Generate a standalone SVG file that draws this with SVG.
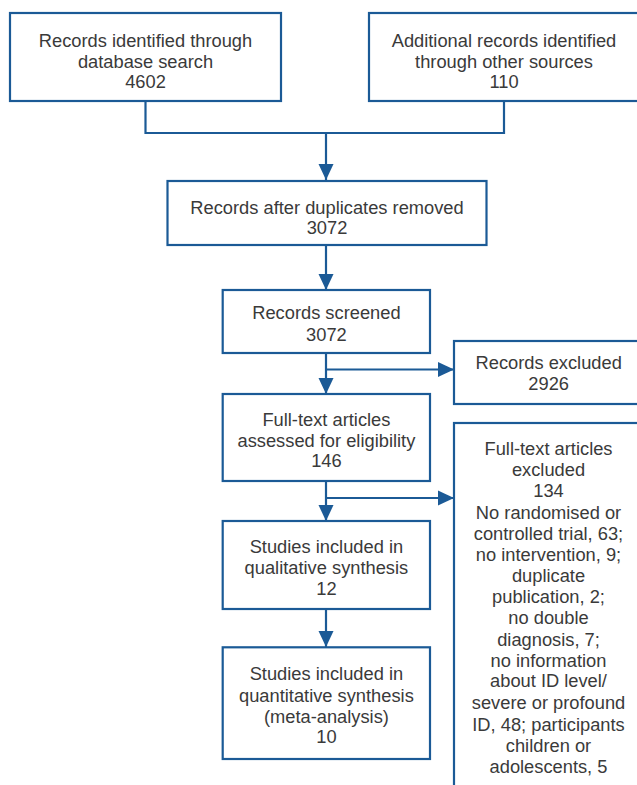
<svg xmlns="http://www.w3.org/2000/svg" width="637" height="785" viewBox="0 0 637 785">
<style>
.box{fill:#fff;stroke:#1b5a96;stroke-width:2.2}
.con{fill:none;stroke:#1b5a96;stroke-width:2.2}
text{font-family:"Liberation Sans",Arial,sans-serif;font-size:18.3px;fill:#3a3a3a;text-anchor:middle}
</style>
<defs>
<marker id="ah" markerUnits="userSpaceOnUse" markerWidth="16" markerHeight="16" viewBox="0 0 16 16" refX="16" refY="8" orient="auto">
<path d="M0,0.5 L16,8 L0,15.5 z" fill="#1b5a96"/>
</marker>
</defs>
<g id="connectors">
<path class="con" d="M145.5,101 V133 H504 V101"/>
<path class="con" d="M326,133 V180" marker-end="url(#ah)"/>
<path class="con" d="M326,245 V290" marker-end="url(#ah)"/>
<path class="con" d="M326,353 V394" marker-end="url(#ah)"/>
<path class="con" d="M326,369.5 H454" marker-end="url(#ah)"/>
<path class="con" d="M326,481 V521" marker-end="url(#ah)"/>
<path class="con" d="M326,498 H454" marker-end="url(#ah)"/>
<path class="con" d="M326,609 V647" marker-end="url(#ah)"/>
</g>
<g id="n1">
<rect class="box" x="10" y="13" width="271" height="88"/>
<text x="145.5" y="47">Records identified through</text>
<text x="145.5" y="67.5">database search</text>
<text x="145.5" y="88">4602</text>
</g>
<g id="n2">
<rect class="box" x="369" y="13" width="272" height="88"/>
<text x="504" y="47">Additional records identified</text>
<text x="504" y="67.5">through other sources</text>
<text x="504" y="88">110</text>
</g>
<g id="n3">
<rect class="box" x="167.5" y="181" width="319" height="64"/>
<text x="327" y="213.5">Records after duplicates removed</text>
<text x="327" y="234">3072</text>
</g>
<g id="n4">
<rect class="box" x="222.7" y="290" width="207.3" height="63"/>
<text x="326.4" y="319.3">Records screened</text>
<text x="326.4" y="340.5">3072</text>
</g>
<g id="n5">
<rect class="box" x="222.7" y="394" width="207.3" height="87"/>
<text x="326.4" y="426">Full-text articles</text>
<text x="326.4" y="446.7">assessed for eligibility</text>
<text x="326.4" y="467.3">146</text>
</g>
<g id="n6">
<rect class="box" x="454" y="341" width="190" height="63"/>
<text x="548.7" y="369.3">Records excluded</text>
<text x="548.7" y="390">2926</text>
</g>
<g id="n7">
<rect class="box" x="454" y="423" width="190" height="380"/>
<text x="548.5" y="455">Full-text articles</text>
<text x="548.5" y="476">excluded</text>
<text x="548.5" y="496.7">134</text>
<text x="548.5" y="519.3">No randomised or</text>
<text x="548.5" y="540">controlled trial, 63;</text>
<text x="548.5" y="561">no intervention, 9;</text>
<text x="548.5" y="581.7">duplicate</text>
<text x="548.5" y="603.3">publication, 2;</text>
<text x="548.5" y="624">no double</text>
<text x="548.5" y="645.7">diagnosis, 7;</text>
<text x="548.5" y="666.5">no information</text>
<text x="548.5" y="687.3">about ID level/</text>
<text x="548.5" y="709">severe or profound</text>
<text x="548.5" y="730.5">ID, 48; participants</text>
<text x="548.5" y="751.7">children or</text>
<text x="548.5" y="772.7">adolescents, 5</text>
</g>
<g id="n8">
<rect class="box" x="222.7" y="521" width="207.3" height="88"/>
<text x="326.4" y="552.7">Studies included in</text>
<text x="326.4" y="574">qualitative synthesis</text>
<text x="326.4" y="595">12</text>
</g>
<g id="n9">
<rect class="box" x="222.7" y="647.3" width="207.3" height="111.7"/>
<text x="326.4" y="680">Studies included in</text>
<text x="326.4" y="701.7">quantitative synthesis</text>
<text x="326.4" y="722.7">(meta-analysis)</text>
<text x="326.4" y="743.3">10</text>
</g>
</svg>
